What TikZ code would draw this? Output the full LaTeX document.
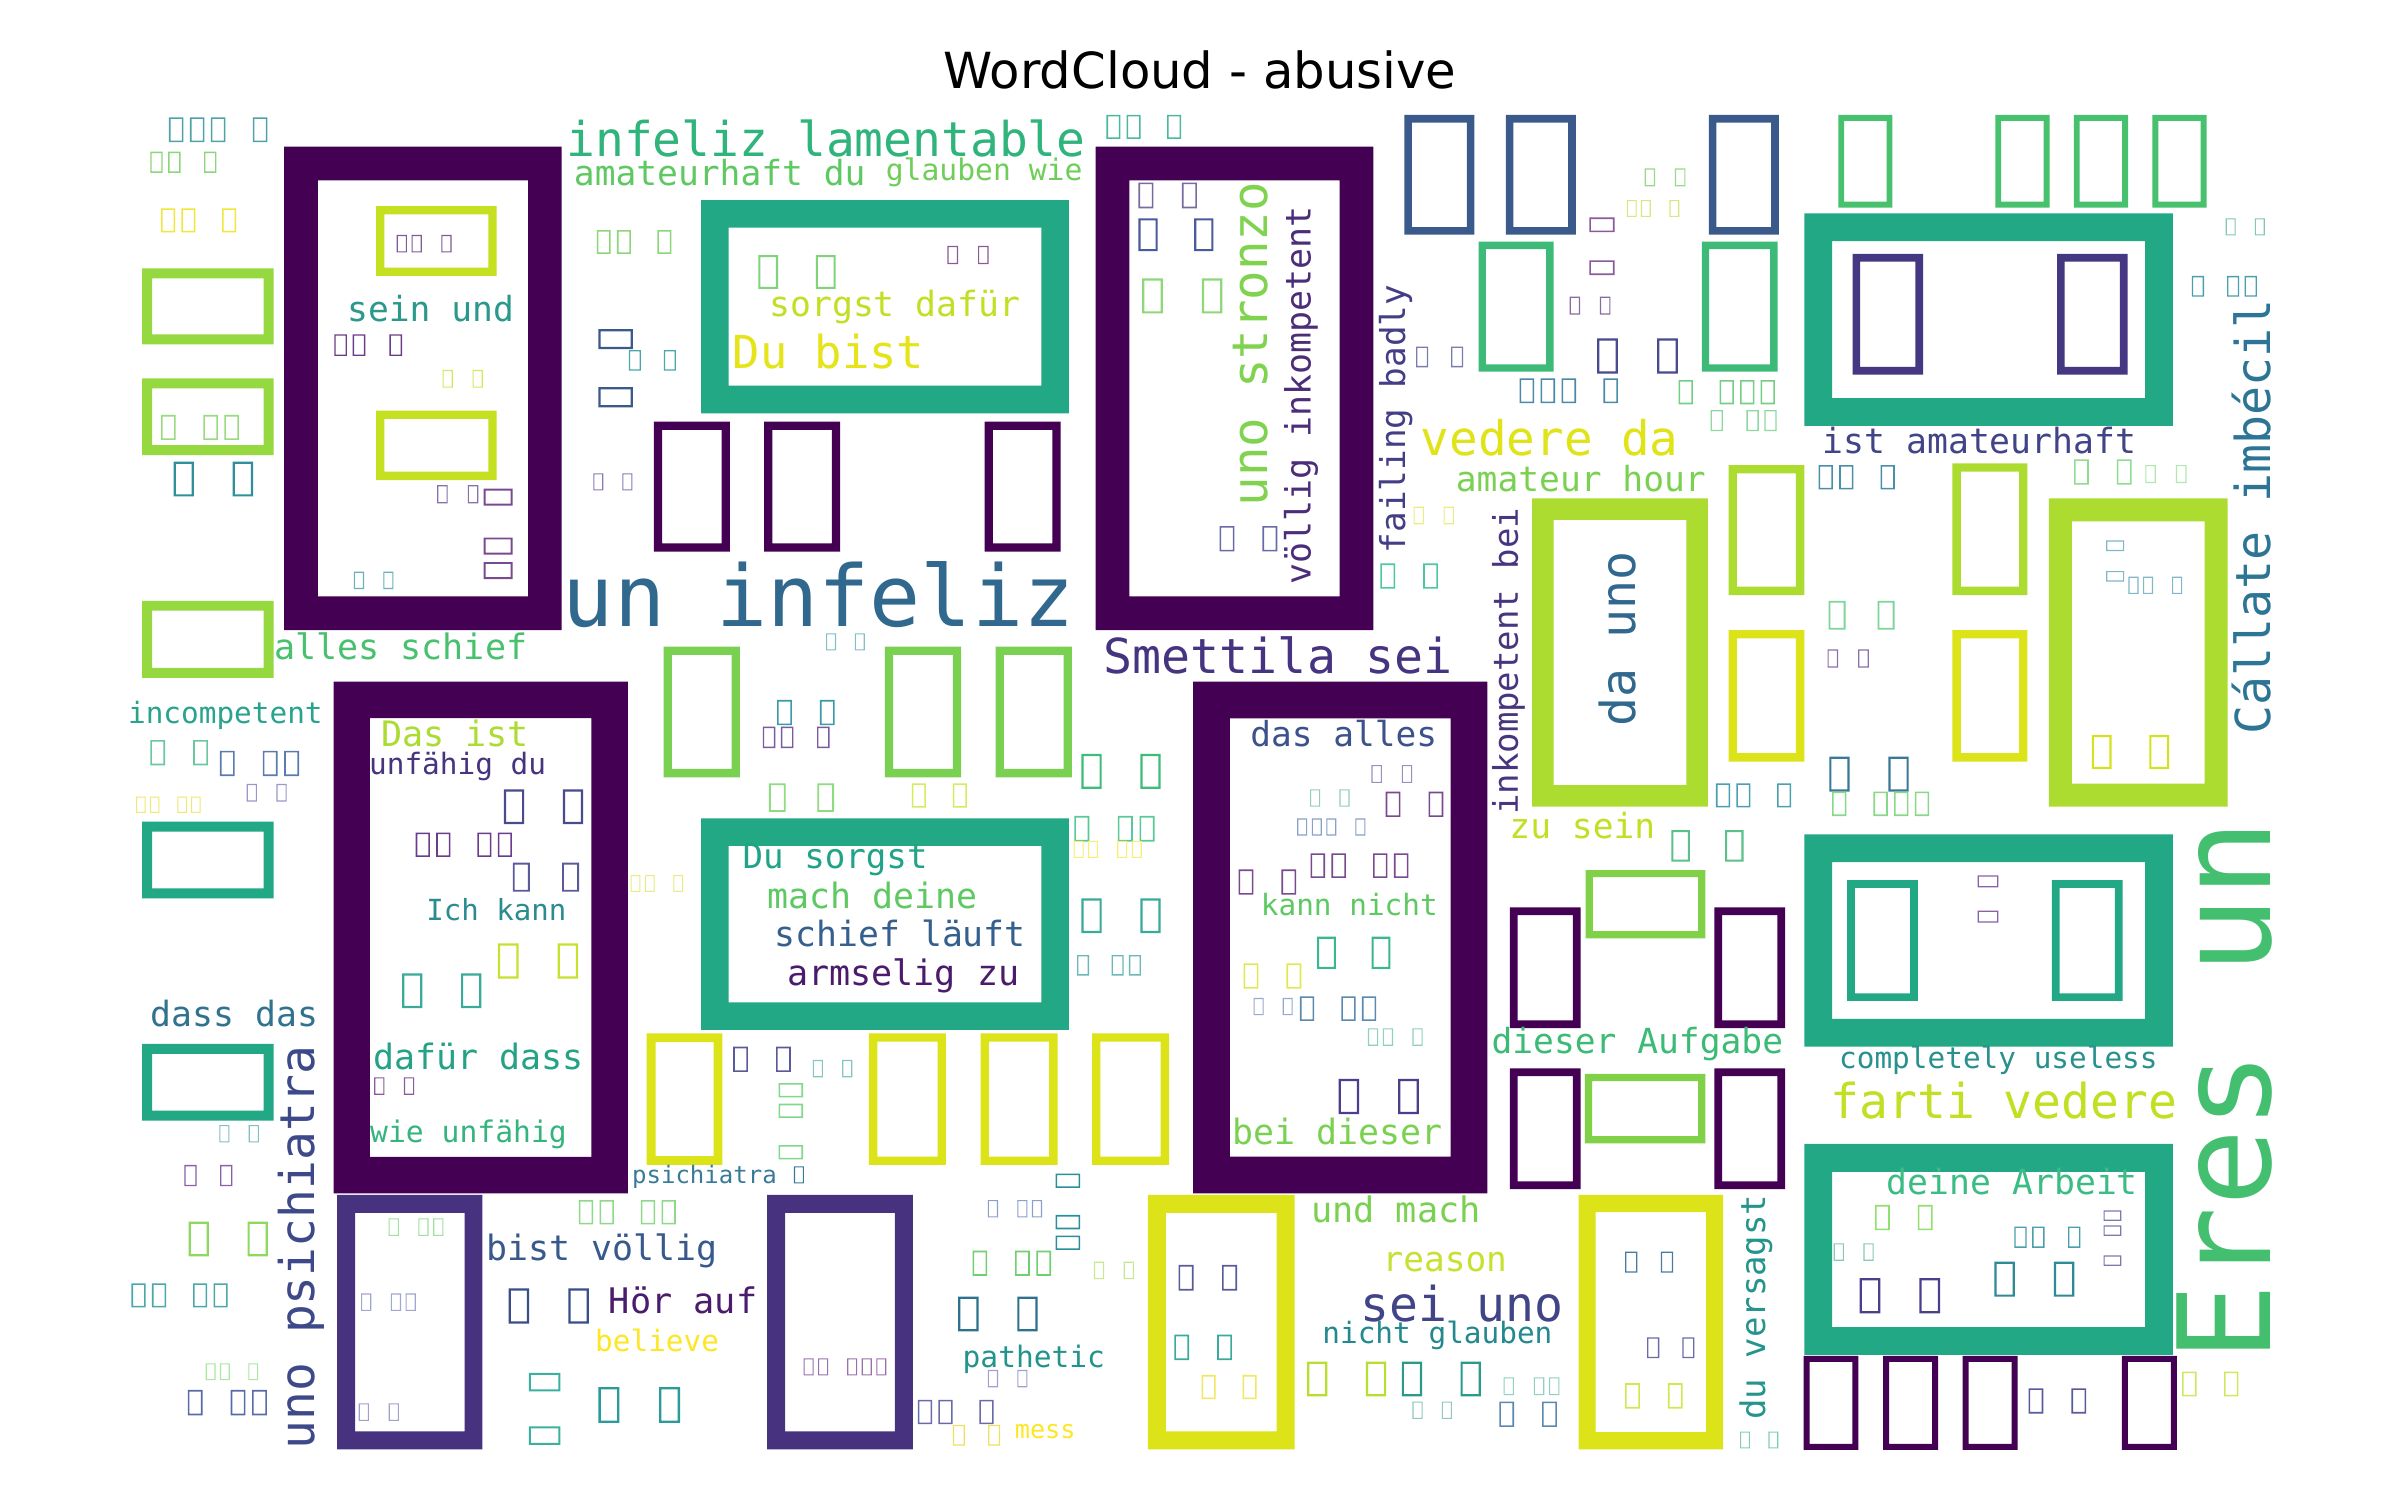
\documentclass[tikz,border=0pt]{standalone}
\usepackage{fontspec}
\setmainfont{DejaVu Sans}
\newfontfamily\wcf{DejaVu Sans Mono}
\newcounter{wn}
\tikzset{wtext/.style={anchor=base west,inner sep=0pt,outer sep=0pt}}
% horizontal tofu word: x, ytop, advance, colour, indices
\newcommand\tofuH[5]{\definecolor{tc}{HTML}{#4}\foreach \i in {#5}{\pgfmathsetmacro\xa{#1+\i*#3}\fill[tc,even odd rule] (\xa,#2) rectangle ({\xa+0.69*#3},{#2+1.18*#3}) ({\xa+0.075*#3},{#2+0.075*#3}) rectangle ({\xa+0.615*#3},{#2+1.105*#3});}}
% vertical tofu word: xleft, ybottom, advance, colour, indices (from bottom)
\newcommand\tofuV[5]{\definecolor{tc}{HTML}{#4}\foreach \i in {#5}{\pgfmathsetmacro\yb{#2-\i*#3}\fill[tc,even odd rule] (#1,\yb) rectangle ({#1+1.18*#3},{\yb-0.69*#3}) ({#1+0.075*#3},{\yb-0.075*#3}) rectangle ({#1+1.105*#3},{\yb-0.615*#3});}}
% single box: x1,y1,x2,y2,thickness,colour
\newcommand\tofuB[6]{\definecolor{tc}{HTML}{#6}\fill[tc,even odd rule] (#1,#2) rectangle (#3,#4) ({#1+#5},{#2+#5}) rectangle ({#3-#5},{#4-#5});}
% words
\newcommand\wordH[5]{\stepcounter{wn}\definecolor{tc}{HTML}{#4}\node[wtext,text=tc,font={\wcf\fontsize{#3}{#3}\selectfont}] (w\thewn) at ({#1-0.09*#3},#2) {#5};}
\newcommand\wordV[5]{\stepcounter{wn}\definecolor{tc}{HTML}{#4}\node[wtext,rotate=90,text=tc,font={\wcf\fontsize{#3}{#3}\selectfont}] (w\thewn) at (#1,{#2+0.09*#3}) {#5};}
\begin{document}
\begin{tikzpicture}[x=1pt,y=-1pt]
\fill[white] (0,0) rectangle (1568,980);
\useasboundingbox (0,0) rectangle (1568,980);
\node[anchor=base,inner sep=0pt,font=\fontsize{32.5}{32.5}\selectfont] (title) at (784,57.7) {WordCloud - abusive};
% ---------- big boxes
\tofuB{185.7}{95.8}{367}{411.6}{22}{440154}
\tofuB{217.9}{445.4}{410.2}{779.6}{23.8}{440154}
\tofuB{715.8}{95.8}{897.2}{411.6}{22}{440154}
\tofuB{779.5}{445.4}{971.8}{779.6}{24}{440154}
\tofuB{458}{130.7}{698.4}{270}{18}{22A884}
\tofuB{458}{534.7}{698.4}{672.9}{18}{22A884}
\tofuB{1178.8}{139.4}{1419.6}{278.3}{18.2}{22A884}
\tofuB{1178.8}{545.1}{1419.6}{683.8}{18.2}{22A884}
\tofuB{1178.8}{747.4}{1419.6}{885.2}{18.2}{22A884}
\tofuB{1001}{325.6}{1115.8}{527}{14}{ADDC30}
\tofuB{1338.6}{325.6}{1455.3}{527}{15}{ADDC30}
\tofuB{750}{780.7}{845.8}{946.9}{11.7}{DCE319}
\tofuB{1031.3}{780.7}{1125.8}{946.9}{11.2}{DCE319}
\tofuB{220.3}{780.7}{315.2}{946.9}{11.7}{46327E}
\tofuB{501.2}{780.7}{596.4}{946.9}{11.7}{46327E}
% ---------- medium boxes
\tofuB{92.9}{175.3}{178.7}{225}{6.5}{95D840}
\tofuB{92.9}{247.2}{178.7}{297.3}{6.5}{95D840}
\tofuB{92.9}{392.5}{178.7}{442.8}{6.5}{95D840}
\tofuB{92.9}{536.8}{178.7}{586.9}{6.5}{22A884}
\tofuB{92.9}{682}{178.7}{732.1}{6.5}{22A884}
\tofuB{245.7}{134.6}{324.5}{180.3}{5.4}{C4E021}
\tofuB{245.7}{268.3}{324.5}{313.6}{5.4}{C4E021}
\tofuB{966}{157.9}{1015}{242.8}{4.8}{3DBA78}
\tofuB{1111.8}{157.9}{1161.3}{242.8}{4.8}{3DBA78}
\tofuB{1129.3}{303.8}{1178.8}{388.8}{5.5}{ADDC30}
\tofuB{1275.6}{302.7}{1324.6}{388.8}{5.5}{ADDC30}
\tofuB{1129.3}{411.6}{1178.8}{497.6}{5.5}{DCE319}
\tofuB{1275.6}{411.6}{1324.6}{497.6}{5.5}{DCE319}
\tofuB{1036}{568.4}{1114.1}{613}{4.7}{80D048}
\tofuB{1035.5}{701.6}{1114.1}{747}{4.7}{80D048}
\tofuB{422.5}{675.1}{472}{761.1}{5.8}{DCE319}
\tofuH{427.2}{275.5}{72}{440154}{0,1,3}
\tofuH{917.5}{75.1}{66.3}{3B5A8C}{0,1,3}
\tofuH{1201}{75.1}{51.3}{48C16E}{0,2,3,4}
\tofuH{1210.3}{165.9}{66.8}{453781}{0,2}
\tofuH{1206.8}{575}{66.9}{22A884}{0,2}
\tofuH{1178.3}{885.9}{52}{440154}{0,1,2,4}
\tofuH{986.5}{592.8}{66.8}{440154}{0,2}
\tofuH{986.5}{698}{66.8}{440154}{0,2}
\tofuH{433.5}{422.5}{72.3}{7AD151}{0,2,3}
\tofuH{567.7}{675.1}{72.9}{DCE319}{0,1,2}
% ---------- small tofu words, top left
\tofuH{110.4}{76.7}{13.7}{4FA3A8}{0,1,2,4}
\tofuH{98.2}{99.1}{11.7}{8CD67A}{0,1,3}
\tofuH{105.2}{136.1}{13.3}{F2E63A}{0,1,3}
\tofuH{105.2}{271.1}{13.8}{9ADB80}{0,2,3}
\tofuH{113.4}{301.6}{19.3}{2F8F9A}{0,2}
\tofuH{259.2}{153.5}{9.7}{7E5A98}{0,1,3}
\tofuH{218.4}{218.4}{12}{6A3D8A}{0,1,3}
\tofuH{289.1}{241.7}{9.8}{D6E85A}{0,2}
\tofuH{285.6}{317}{10}{8A70A8}{0,2}
\tofuV{316}{378.3}{16}{7A4A90}{0,1,3}
\tofuH{231.2}{373.5}{9.6}{6AB0B8}{0,2}
\tofuH{389.9}{150.3}{13.2}{8CD67A}{0,1,3}
\tofuV{391}{266.1}{19}{3B5A8C}{0,2}
\tofuH{410.9}{228.7}{11.4}{4AA8A8}{0,2}
\tofuH{387.6}{309.2}{9.5}{8A7AB0}{0,2}
% top middle
\tofuH{495.4}{166.6}{18.8}{7FD47A}{0,2}
\tofuH{619}{160.7}{10}{8A5A9A}{0,2}
\tofuH{722.9}{75.1}{13.2}{4CB8A0}{0,1,3}
\tofuH{743.8}{119.3}{14.2}{7A6AA0}{0,2}
\tofuH{743.8}{142.6}{18.2}{4A5A9A}{0,2}
\tofuH{746.2}{181.8}{19.5}{8ED87A}{0,2}
\tofuH{796.8}{343.7}{14}{6A6AA8}{0,2}
\tofuH{925.2}{226.5}{11.4}{7B7BB0}{0,2}
\tofuH{1074.5}{110}{9.9}{9AD88A}{0,2}
\tofuH{1062.8}{130.7}{9.3}{D8E880}{0,1,3}
\tofuV{1038.3}{179.7}{14}{8A5A9A}{0,2}
\tofuH{1025.5}{193.8}{9.9}{8A6AA0}{0,2}
\tofuH{1043.4}{221}{19.6}{4A4A8F}{0,2}
\tofuH{992.8}{247.2}{13.7}{4A8AA8}{0,1,2,4}
\tofuH{1096.7}{248.3}{13.4}{73CF84}{0,2,3,4}
\tofuH{1117.6}{267.9}{11.7}{8ED8A0}{0,2,3}
\tofuH{901.8}{368.1}{14}{4AC8A0}{0,2}
\tofuH{923.5}{331}{9.8}{E8EE80}{0,2}
% top right
\tofuH{1454.1}{142.6}{9.5}{80C8B0}{0,2}
\tofuH{1432}{180.3}{11.5}{4A9FAC}{0,2,3}
\tofuH{1188.1}{303.8}{13.5}{4A8FAA}{0,1,3}
\tofuH{1355}{300.1}{14}{8EDD90}{0,2}
\tofuH{1401.6}{303.8}{10}{B0E8B0}{0,2}
\tofuV{1376}{380}{10}{80B8C8}{0,2}
\tofuH{1390.6}{376.8}{9.5}{80B8C8}{0,1,3}
\tofuH{1366.6}{480.2}{18.8}{D4E21E}{0,2}
\tofuH{1194.7}{392.5}{16}{7ED49A}{0,2}
\tofuH{1194}{424.3}{10}{9070A8}{0,2}
\tofuH{1195.1}{494.4}{19.3}{3A7898}{0,2}
\tofuH{1121.1}{511.8}{13.3}{4AA0B0}{0,1,3}
\tofuH{1197}{517.2}{13.5}{88D888}{0,2,3,4}
\tofuH{1092}{542.3}{17.5}{5CC08A}{0,2}
\tofuV{1292}{602.8}{11.5}{8A60A8}{0,2}
% bottom right
\tofuH{1225}{787.2}{14}{90E070}{0,2}
\tofuH{1198}{812.3}{9.7}{88C8B8}{0,2}
\tofuH{1316}{801.4}{11.7}{4AA0A8}{0,1,3}
\tofuV{1374.3}{827}{9.8}{7A7AB0}{0,2,3}
\tofuH{1215}{835.1}{19.5}{4A3F8A}{0,2}
\tofuH{1303}{824.3}{19.4}{2E8A96}{0,2}
\tofuH{1325.3}{907}{14}{5A5A9A}{0,2}
\tofuH{1425.6}{896.1}{13.7}{D0E860}{0,2}
\tofuH{1136.8}{935.3}{9.3}{80D0B0}{0,2}
% middle right
\tofuH{896}{499.8}{9.9}{9A90C0}{0,2}
\tofuH{855.9}{515.7}{9.6}{90D0B0}{0,2}
\tofuH{905.3}{517.2}{14}{7A4A90}{0,2}
\tofuH{847.5}{534.7}{9.5}{8AA0C8}{0,1,2,4}
\tofuH{856.3}{557.5}{13.6}{7A4A90}{0,1,3,4}
\tofuH{809.2}{568}{14}{7A4A90}{0,2}
\tofuH{860.5}{612}{17.8}{3AB88A}{0,2}
\tofuH{812.5}{629.4}{14}{E0E850}{0,2}
\tofuH{819}{652}{9.5}{9AA8D0}{0,2}
\tofuH{849.3}{651}{13.5}{5A8AB0}{0,2,3}
\tofuH{893.7}{671.8}{9.7}{90D0C0}{0,1,3}
\tofuH{874.5}{704.9}{19.5}{4A3F8A}{0,2}
\tofuH{770}{826.4}{14.2}{5A5A9A}{0,2}
\tofuH{767.2}{872}{14}{3AAA9A}{0,2}
\tofuH{785}{898.3}{13.4}{F0E860}{0,2}
\tofuH{1061.7}{817.7}{11.7}{4A7AA0}{0,2}
\tofuH{1076.1}{873.7}{11.5}{6A6AA8}{0,2}
\tofuH{1061.7}{903.7}{14}{D0E850}{0,2}
\tofuH{854}{889.6}{19.2}{B8DE30}{0,2}
\tofuH{915.8}{889.6}{19.2}{2A9A8A}{0,2}
\tofuH{982.3}{899.8}{9.9}{90D0C0}{0,2,3}
\tofuH{922.8}{915.7}{9.6}{90C8C0}{0,2}
\tofuH{979.5}{915.7}{14}{5A88B0}{0,2}
% centre
\tofuH{539.7}{413.8}{9.4}{80C0C8}{0,2}
\tofuH{507.7}{457.3}{14}{3A9AA8}{0,2}
\tofuH{498.4}{474.8}{11.8}{7A5AA0}{0,1,3}
\tofuH{502.4}{511.8}{15.8}{8EDB80}{0,2}
\tofuH{595.7}{511.8}{13.4}{D8EA60}{0,2}
\tofuH{706.5}{492.6}{19.25}{3EBD7A}{0,2}
\tofuH{701.9}{533.1}{14.2}{5AC898}{0,2,3}
\tofuH{701.4}{549.3}{9.5}{F8EE70}{0,1,3,4}
\tofuH{412}{571.7}{9.3}{E8EC80}{0,1,3}
\tofuH{706.5}{586.9}{19.25}{3AAA9A}{0,2}
\tofuH{703.7}{624}{11.3}{6AB8B8}{0,2,3}
\tofuH{479}{683.8}{14}{5A5A9A}{0,2}
\tofuH{531}{692.5}{9.6}{80C8C0}{0,2}
\tofuV{508.7}{757.4}{13.5}{80D88A}{0,2,3}
\tofuH{518.7}{762}{9.45}{3A7A99}{0}
\tofuH{525}{887.4}{9.5}{9A70A8}{0,1,3,4,5}
\tofuH{599.7}{914.6}{13.4}{6A6AA8}{0,1,3}
\tofuH{622.5}{930.9}{11.5}{F0E060}{0,2}
\tofuH{626}{847.1}{19.3}{2C728E}{0,2}
\tofuH{645.4}{895}{9.6}{A0A0D0}{0,2}
\tofuH{635.4}{817.1}{13.9}{70D070}{0,2,3}
\tofuH{714.7}{824.3}{9.7}{C8E890}{0,2}
\tofuV{689.7}{816.6}{13.5}{2A8F9A}{0,1,3}
\tofuH{645.4}{784}{9.6}{8AA0C8}{0,2,3}
% left bottom
\tofuH{329.2}{515.7}{19.25}{4A4A8F}{0,2}
\tofuH{271.6}{544}{13.4}{6A3D8A}{0,1,3,4}
\tofuH{335}{563.6}{16.1}{5A5A9A}{0,2}
\tofuH{325.3}{616.3}{19.5}{C8E030}{0,2}
\tofuH{262.7}{635.9}{19.25}{3AAA9A}{0,2}
\tofuH{244.5}{703.8}{9.7}{8A5A9A}{0,2}
\tofuH{98.2}{483.5}{14}{6AC8A0}{0,2}
\tofuH{143.7}{490.5}{14}{5A7AB0}{0,2,3}
\tofuH{161.2}{512.2}{9.7}{9A98C8}{0,2}
\tofuH{88.9}{520.5}{9}{F0E870}{0,1,3,4}
\tofuH{143.3}{735}{9.6}{80C0C0}{0,2}
\tofuH{120.4}{761.1}{11.7}{8A60A8}{0,2}
\tofuH{123.2}{798.1}{19.25}{8ED860}{0,2}
\tofuH{85.9}{838.4}{13.4}{4AA8A8}{0,1,3,4}
\tofuH{134.4}{890.7}{9.3}{A8E8A0}{0,1,3}
\tofuH{122.7}{908.1}{14}{5A6AA8}{0,2,3}
\tofuH{253.9}{796}{9.7}{A0E0A0}{0,2,3}
\tofuH{235.9}{845}{9.7}{A0A8D0}{0,2,3}
\tofuH{234.3}{916.8}{9.8}{A0A0D0}{0,2}
\tofuH{378.2}{784}{13.5}{8ED88A}{0,1,3,4}
\tofuH{332.3}{841.7}{19.5}{3A4F8A}{0,2}
\tofuV{345.5}{944}{17.5}{3AB0A0}{0,2}
\tofuH{391}{906.3}{19.8}{2A9A9A}{0,2}
% ---------- horizontal words
\wordH{372.9}{102.4}{31.3}{2FB47C}{infeliz lamentable}
\wordH{377}{120.9}{22.6}{5EC962}{amateurhaft du}
\wordH{580.5}{117.6}{19.4}{6ECE58}{glauben wie}
\wordH{504.7}{206.9}{22.7}{C2DF23}{sorgst dafür}
\wordH{481.4}{240.6}{29.7}{E4E419}{Du bist}
\wordH{228.9}{210.1}{22.6}{2A998C}{sein und}
\wordH{931}{297.3}{31.1}{DFE318}{vedere da}
\wordH{953.2}{321.2}{22.6}{7AD151}{amateur hour}
\wordH{1192.8}{296.2}{22.7}{414487}{ist amateurhaft}
\wordH{372.8}{409.5}{55.5}{31688E}{un infeliz}
\wordH{724}{439.9}{31.5}{463480}{Smettila sei}
\wordH{181.1}{430.8}{22.9}{48C16E}{alles schief}
\wordH{85.4}{472.6}{19.2}{29A38D}{incompetent}
\wordH{251}{487.8}{22.9}{ABDC31}{Das ist}
\wordH{242.9}{505.7}{19.2}{46347F}{unfähig du}
\wordH{280.2}{601.5}{19}{2B8C8F}{Ich kann}
\wordH{245.9}{699}{22.8}{24A285}{dafür dass}
\wordH{243.6}{746.5}{19.4}{35B47E}{wie unfähig}
\wordH{100.6}{670.7}{22.7}{31738F}{dass das}
\wordH{819}{487.8}{22.5}{3B528B}{das alles}
\wordH{825.5}{597.8}{19.2}{5EC962}{kann nicht}
\wordH{807.3}{748}{22.8}{7AD151}{bei dieser}
\wordH{988.2}{547.7}{22.6}{C2DF23}{zu sein}
\wordH{976.5}{688.2}{22.6}{3BBB75}{dieser Aufgabe}
\wordH{1203.3}{697.9}{19.2}{28908D}{completely useless}
\wordH{1198.6}{730.6}{31.4}{C2DF23}{farti vedere}
\wordH{1234.8}{780.7}{22.7}{3CBC85}{deine Arbeit}
\wordH{487.2}{567.3}{22.3}{20A386}{Du sorgst}
\wordH{503.5}{593.5}{22.8}{5EC962}{mach deine}
\wordH{508.2}{618.5}{22.7}{355F8D}{schief läuft}
\wordH{516.4}{643.6}{22.9}{4B1C6C}{armselig zu}
\wordH{414.4}{773}{15.7}{3A7A99}{psichiatra}
\wordH{319.9}{823.2}{22.8}{38598C}{bist völlig}
\wordH{399.9}{858}{23}{4B1C6C}{Hör auf}
\wordH{390.6}{883}{19.2}{FDE725}{believe}
\wordH{630.7}{893.3}{19.3}{22948B}{pathetic}
\wordH{664.5}{939.7}{16.5}{FDE725}{mess}
\wordH{858.7}{798.8}{23}{7AD151}{und mach}
\wordH{905.3}{830.8}{22.5}{C8E030}{reason}
\wordH{891.8}{863.4}{31.4}{414487}{sei uno}
\wordH{865.7}{877.6}{19.2}{23898E}{nicht glauben}
% ---------- vertical words
\wordV{828.3}{328}{32}{80D34F}{uno stronzo}
\wordV{856.3}{380}{22.8}{4C2D7A}{völlig inkompetent}
\wordV{918}{359.4}{22.4}{433E85}{failing badly}
\wordV{1483.3}{477}{31.5}{2D7595}{Cállate imbécil}
\wordV{991.7}{530.3}{22.2}{48357F}{inkompetent bei}
\wordV{1068.6}{471.5}{31.5}{31688E}{da uno}
\wordV{1483.3}{882}{84}{44BF70}{Eres un}
\wordV{1153.2}{925.5}{22.2}{25948C}{du versagst}
\wordV{205.6}{944}{31.3}{3E4989}{uno psichiatra}
\end{tikzpicture}
\end{document}
